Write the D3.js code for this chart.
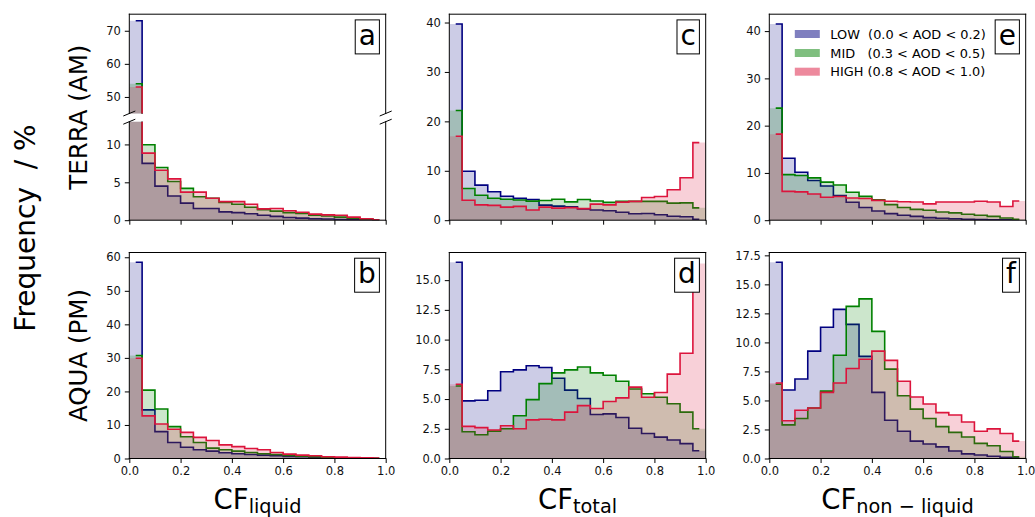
<!DOCTYPE html>
<html>
<head>
<meta charset="utf-8">
<title>Cloud fraction histograms by AOD</title>
<script src="https://cdn.jsdelivr.net/npm/d3@7/dist/d3.min.js"></script>
<style>
body { margin: 0; background: #fff; }
svg { display: block; font-family: "DejaVu Sans", sans-serif; }
.tick text { fill: #111; }
</style>
</head>
<body>
<div id="chart"></div>
<script>

// bin edges of every histogram
var binEdges = [0.0, 0.05, 0.1, 0.15, 0.2, 0.25, 0.3, 0.35, 0.4, 0.45, 0.5,
                0.55, 0.6, 0.65, 0.7, 0.75, 0.8, 0.85, 0.9, 0.95, 1.0];

var seriesNames = ["LOW", "MID", "HIGH"];
var seriesLabels = ["LOW  (0.0 < AOD < 0.2)", "MID   (0.3 < AOD < 0.5)", "HIGH (0.8 < AOD < 1.0)"];
var seriesColors = ["#000080", "#008000", "#dc143c"];

// TERRA, CF liquid (a)
var terraLiquidLow  = [73.0, 7.5, 4.5, 3.2, 2.25, 1.55, 1.55, 1.1, 1.0, 0.85, 0.65, 0.5, 0.35, 0.28, 0.2, 0.15, 0.1, 0.05, 0.02, 0.01];
var terraLiquidMid  = [54.0, 9.95, 6.95, 5.1, 4.2, 3.1, 2.9, 2.35, 2.1, 1.7, 1.4, 1.2, 1.0, 0.9, 0.65, 0.55, 0.4, 0.25, 0.15, 0.03];
var terraLiquidHigh = [53.0, 8.85, 6.6, 5.45, 3.7, 3.7, 2.9, 2.45, 2.45, 2.1, 1.5, 1.55, 1.25, 1.05, 0.8, 0.7, 0.65, 0.4, 0.2, 0.05];

// AQUA, CF liquid (b)
var aquaLiquidLow  = [58.5, 14.5, 8.0, 4.75, 3.35, 2.6, 2.2, 1.7, 1.4, 1.2, 1.0, 0.8, 0.6, 0.5, 0.3, 0.2, 0.15, 0.1, 0.05, 0.02];
var aquaLiquidMid  = [30.7, 20.4, 14.75, 9.5, 6.5, 4.75, 3.1, 2.6, 2.2, 1.8, 1.4, 1.2, 0.9, 0.7, 0.5, 0.3, 0.2, 0.15, 0.1, 0.05];
var aquaLiquidHigh = [29.9, 12.7, 10.3, 8.7, 7.8, 6.3, 5.35, 4.05, 3.55, 3.0, 2.6, 1.8, 1.3, 1.0, 0.8, 0.5, 0.4, 0.3, 0.2, 0.1];

// TERRA, CF total (c)
var terraTotalLow  = [39.7, 9.9, 7.1, 5.75, 4.85, 4.45, 4.2, 3.05, 2.85, 2.7, 2.3, 2.05, 1.9, 1.6, 1.3, 1.35, 1.1, 0.8, 0.7, 0.2];
var terraTotalMid  = [22.2, 6.4, 5.05, 4.45, 4.25, 4.1, 3.85, 4.0, 4.25, 3.7, 4.2, 3.9, 3.6, 3.8, 3.8, 3.8, 3.8, 3.45, 3.5, 2.5];
var terraTotalHigh = [17.0, 4.05, 3.1, 3.0, 2.65, 2.8, 2.05, 2.65, 2.45, 2.55, 2.35, 3.25, 3.1, 3.65, 3.8, 4.6, 4.8, 6.15, 8.6, 15.7];

// AQUA, CF total (d)
var aquaTotalLow  = [16.5, 4.85, 4.9, 5.7, 7.3, 7.45, 7.8, 7.65, 6.75, 5.75, 5.05, 3.7, 3.75, 3.45, 2.55, 2.1, 1.8, 1.55, 1.25, 0.65];
var aquaTotalMid  = [6.1, 2.25, 2.0, 2.3, 2.5, 3.6, 4.95, 6.3, 7.2, 7.45, 7.7, 7.2, 7.0, 6.5, 5.85, 5.45, 5.15, 4.6, 3.9, 2.5];
var aquaTotalHigh = [6.25, 2.7, 2.6, 2.4, 2.75, 2.5, 3.25, 3.3, 3.25, 3.9, 4.45, 4.2, 4.8, 5.1, 6.0, 5.15, 5.55, 7.1, 8.85, 16.4];

// TERRA, CF non-liquid (e)
var terraNonLow  = [41.5, 13.1, 10.15, 8.4, 7.25, 5.2, 3.8, 2.7, 1.95, 1.4, 1.05, 0.8, 0.55, 0.4, 0.3, 0.2, 0.15, 0.1, 0.08, 0.05];
var terraNonMid  = [23.7, 9.65, 9.45, 8.95, 8.05, 7.45, 5.9, 5.05, 4.3, 3.3, 2.7, 2.3, 2.1, 1.75, 1.55, 1.25, 1.05, 0.8, 0.45, 0.2];
var terraNonHigh = [18.2, 6.1, 6.0, 5.55, 4.85, 5.0, 4.7, 4.6, 4.2, 4.0, 3.9, 3.85, 3.45, 3.85, 3.85, 3.85, 4.0, 3.85, 2.9, 4.05];

// AQUA, CF non-liquid (f)
var aquaNonLow  = [16.9, 5.9, 6.85, 9.25, 11.3, 12.85, 11.55, 8.8, 5.7, 3.3, 2.35, 1.5, 1.25, 1.0, 0.65, 0.4, 0.3, 0.2, 0.1, 0.05];
var aquaNonMid  = [6.4, 2.9, 3.45, 4.35, 5.8, 8.9, 13.1, 13.75, 10.95, 7.7, 5.4, 4.25, 3.45, 2.75, 2.25, 1.85, 1.3, 1.1, 0.6, 0.15];
var aquaNonHigh = [6.5, 3.25, 4.15, 4.35, 5.7, 6.5, 7.75, 8.55, 9.25, 8.45, 6.65, 5.3, 4.7, 3.95, 3.75, 3.15, 2.35, 2.55, 2.15, 1.5];

var xTicks = [0.0, 0.2, 0.4, 0.6, 0.8, 1.0];
var panelLetters = ["a", "c", "e", "b", "d", "f"];
var rowLabels = ["TERRA (AM)", "AQUA (PM)"];
var colLabels = [["CF", "liquid"], ["CF", "total"], ["CF", "non \u2212 liquid"]];

var width = 1035, height = 517;
var colLeft = [129.3, 449.3, 769.3], panelW = 256.4;
var rowTop = [14.2, 252.5], panelH = 206;

var svg = d3.select("#chart").append("svg").attr("width", width).attr("height", height);
var defs = svg.append("defs");
var clipCount = 0;

var panels = [
  { row: 0, col: 0, data: [terraLiquidLow, terraLiquidMid, terraLiquidHigh], broken: true,
    upper: [45, 75], upperTicks: [50, 60, 70], lower: [0, 13], lowerTicks: [0, 5, 10] },
  { row: 0, col: 1, data: [terraTotalLow, terraTotalMid, terraTotalHigh], ticks: [0, 10, 20, 30, 40], fmt: "d" },
  { row: 0, col: 2, data: [terraNonLow, terraNonMid, terraNonHigh], ticks: [0, 10, 20, 30, 40], fmt: "d", legend: true },
  { row: 1, col: 0, data: [aquaLiquidLow, aquaLiquidMid, aquaLiquidHigh], ticks: [0, 10, 20, 30, 40, 50, 60], fmt: "d" },
  { row: 1, col: 1, data: [aquaTotalLow, aquaTotalMid, aquaTotalHigh], ticks: [0, 2.5, 5, 7.5, 10, 12.5, 15], fmt: ".1f" },
  { row: 1, col: 2, data: [aquaNonLow, aquaNonMid, aquaNonHigh], ticks: [0, 2.5, 5, 7.5, 10, 12.5, 15, 17.5], fmt: ".1f" }
];

function drawHists(g, data, x, y, w, h) {
  var id = "clip" + (clipCount++);
  defs.append("clipPath").attr("id", id).append("rect").attr("width", w).attr("height", h);
  var body = g.append("g").attr("clip-path", "url(#" + id + ")");

  var area = d3.area()
    .x(function(d) { return x(d[0]); })
    .y0(y(0) + 50)
    .y1(function(d) { return y(d[1]); })
    .curve(d3.curveStepAfter);
  var line = d3.line()
    .x(function(d) { return x(d[0]); })
    .y(function(d) { return y(d[1]); })
    .curve(d3.curveStep);

  data.forEach(function(vals, s) {
    var edgePts = vals.map(function(v, i) { return [binEdges[i], v]; });
    edgePts.push([binEdges[binEdges.length - 1], vals[vals.length - 1]]);
    var midPts = vals.map(function(v, i) { return [(binEdges[i] + binEdges[i + 1]) / 2, v]; });
    body.append("path").attr("d", area(edgePts))
      .attr("fill", seriesColors[s]).attr("fill-opacity", 0.2);
    body.append("path").attr("d", line(midPts))
      .attr("fill", "none").attr("stroke", seriesColors[s]).attr("stroke-width", 1.6);
  });
}

function leftAxis(g, y, ticks, fmt) {
  var ax = g.append("g").call(d3.axisLeft(y).tickValues(ticks).tickFormat(d3.format(fmt))
    .tickSize(4.5).tickPadding(4).tickSizeOuter(0));
  ax.select(".domain").remove();
  ax.selectAll("text").attr("font-size", 11.5).attr("font-family", "DejaVu Sans");
  ax.selectAll("line").attr("stroke", "#000");
}

function bottomAxis(g, x, h, showLabels) {
  var ax = g.append("g").attr("transform", "translate(0," + h + ")")
    .call(d3.axisBottom(x).tickValues(xTicks)
      .tickFormat(showLabels ? d3.format(".1f") : function() { return ""; })
      .tickSize(4.5).tickPadding(4.3).tickSizeOuter(0));
  ax.select(".domain").remove();
  ax.selectAll("text").attr("font-size", 11.5).attr("font-family", "DejaVu Sans");
  ax.selectAll("line").attr("stroke", "#000");
}

function spines(g, w, h, sides) {
  var segs = { top: [0, 0, w, 0], bottom: [0, h, w, h], left: [0, 0, 0, h], right: [w, 0, w, h] };
  sides.forEach(function(s) {
    var c = segs[s];
    g.append("line").attr("x1", c[0]).attr("y1", c[1]).attr("x2", c[2]).attr("y2", c[3])
      .attr("stroke", "#000").attr("stroke-width", 1).attr("stroke-linecap", "square");
  });
}

panels.forEach(function(p, k) {
  var left = colLeft[p.col], top = rowTop[p.row];
  var x = d3.scaleLinear().domain([0, 1]).range([0, panelW]);
  var g = svg.append("g").attr("transform", "translate(" + left + "," + top + ")");

  if (p.broken) {
    var upH = 99.3, gap = 8.2, loH = panelH - upH - gap;
    var yUp = d3.scaleLinear().domain(p.upper).range([upH, 0]);
    var yLo = d3.scaleLinear().domain(p.lower).range([loH, 0]);
    var gu = g.append("g");
    var gl = g.append("g").attr("transform", "translate(0," + (upH + gap) + ")");
    drawHists(gu, p.data, x, yUp, panelW, upH);
    drawHists(gl, p.data, x, yLo, panelW, loH);
    leftAxis(gu, yUp, p.upperTicks, "d");
    leftAxis(gl, yLo, p.lowerTicks, "d");
    bottomAxis(gl, x, loH, false);
    spines(gu, panelW, upH, ["top", "left", "right"]);
    spines(gl, panelW, loH, ["bottom", "left", "right"]);
    // diagonal break marks
    [0, panelW].forEach(function(cx) {
      [upH, upH + gap].forEach(function(cy) {
        g.append("line").attr("x1", cx - 6).attr("y1", cy + 2.5).attr("x2", cx + 6).attr("y2", cy - 2.5)
          .attr("stroke", "#000").attr("stroke-width", 1);
      });
    });
  } else {
    var maxV = d3.max(p.data, function(a) { return d3.max(a); });
    var y = d3.scaleLinear().domain([0, maxV * 1.05]).range([panelH, 0]);
    drawHists(g, p.data, x, y, panelW, panelH);
    leftAxis(g, y, p.ticks, p.fmt);
    bottomAxis(g, x, panelH, p.row === 1);
    spines(g, panelW, panelH, ["top", "bottom", "left", "right"]);
  }

  // panel letter in a box
  var box = g.append("rect");
  var letter = g.append("text").text(panelLetters[k])
    .attr("font-size", 28).attr("text-anchor", "middle");
  var tw = letter.node().getComputedTextLength();
  var bw = tw + 7, bx = panelW - 6.3 - bw, by = 5.7;
  box.attr("x", bx).attr("y", by).attr("width", bw).attr("height", 34)
    .attr("fill", "#fff").attr("stroke", "#000").attr("stroke-width", 1);
  letter.attr("x", bx + bw / 2).attr("y", by + 25);

  if (p.legend) {
    var lg = g.append("g").attr("transform", "translate(25.5,0)");
    seriesLabels.forEach(function(lbl, s) {
      var cy = [19.8, 38.8, 57.5][s];
      lg.append("rect").attr("x", 0).attr("y", cy - 4).attr("width", 25).attr("height", 8)
        .attr("fill", seriesColors[s]).attr("fill-opacity", 0.5);
      lg.append("text").attr("x", 35.5).attr("y", cy).attr("dy", "0.36em")
        .attr("font-size", 12.9).style("white-space", "pre").text(lbl);
    });
  }
});

// x axis labels with subscripts
colLabels.forEach(function(lbl, c) {
  var t = svg.append("text").attr("x", colLeft[c] + panelW / 2).attr("y", 508.5)
    .attr("text-anchor", "middle").attr("font-size", 27.5).style("white-space", "pre");
  t.append("tspan").text(lbl[0]);
  t.append("tspan").attr("font-size", 19.3).attr("dy", 4.5).text(lbl[1]);
});

// row labels
rowLabels.forEach(function(lbl, r) {
  svg.append("text").attr("transform", "translate(87," + (rowTop[r] + panelH / 2) + ") rotate(-90)")
    .attr("text-anchor", "middle").attr("font-size", 24.5).text(lbl);
});

svg.append("text").attr("transform", "translate(35,228) rotate(-90)")
  .attr("text-anchor", "middle").attr("font-size", 28).style("white-space", "pre")
  .text("Frequency  / %");

</script>
</body>
</html>
